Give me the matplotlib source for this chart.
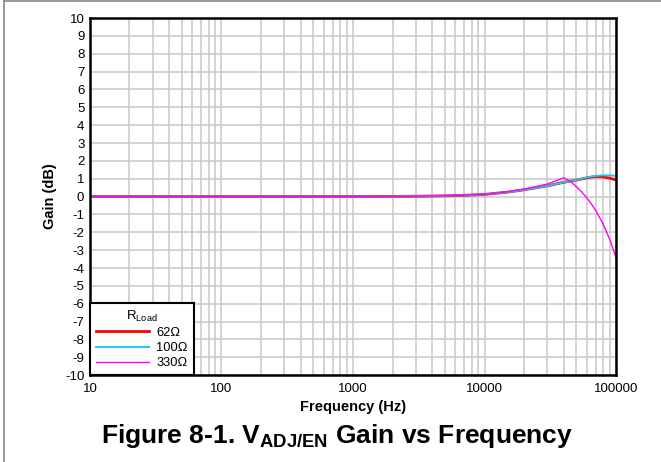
import numpy as np
import matplotlib.pyplot as plt
from matplotlib.ticker import FixedLocator, LogLocator, NullFormatter
from matplotlib.lines import Line2D

plt.rcParams['font.family'] = ['Liberation Sans', 'DejaVu Sans']
plt.rcParams['mathtext.fontset'] = 'custom'
plt.rcParams['mathtext.rm'] = 'Liberation Sans'
plt.rcParams['mathtext.bf'] = 'Liberation Sans:bold'
plt.rcParams['axes.unicode_minus'] = False

freq = [10, 100, 1000, 2000, 3000, 5000, 7000, 10000, 15000, 20000, 30000,
        40000, 45000, 50000, 55000, 60000, 65000, 70000, 80000, 90000, 100000]
gain_62 = [0, 0, 0, 0.01, 0.02, 0.04, 0.07, 0.12, 0.25, 0.38, 0.6,
           0.8, 0.87, 0.93, 0.99, 1.05, 1.09, 1.12, 1.1, 1.03, 0.93]
gain_100 = [0, 0, 0, 0.01, 0.02, 0.04, 0.07, 0.12, 0.25, 0.38, 0.6,
            0.8, 0.87, 0.94, 1.01, 1.07, 1.12, 1.16, 1.19, 1.19, 1.15]
gain_330 = [0, 0, 0, 0.01, 0.02, 0.05, 0.08, 0.13, 0.27, 0.42, 0.7,
            1.05, 0.85, 0.55, 0.25, -0.08, -0.42, -0.78, -1.55, -2.45, -3.4]
labels = ['62\u03a9', '100\u03a9', '330\u03a9']

fig = plt.figure(figsize=(6.61, 4.62), dpi=100)
ax = fig.add_axes([0.136, 0.188, 0.796, 0.773])

ax.plot(freq, gain_62, color='#ff0000', lw=2.0, label=labels[0])
ax.plot(freq, gain_100, color='#1ec8f0', lw=1.4, label=labels[1])
ax.plot(freq, gain_330, color='#ff00ff', lw=1.0, label=labels[2])

ax.set_xscale('log')
ax.set_xlim(10, 100000)
ax.set_ylim(-10, 10)
ax.xaxis.set_major_locator(FixedLocator([10, 100, 1000, 10000, 100000]))
ax.set_xticklabels(['10', '100', '1000', '10000', '100000'])
ax.xaxis.set_minor_locator(LogLocator(base=10, subs=np.arange(2, 10), numticks=20))
ax.xaxis.set_minor_formatter(NullFormatter())
ax.set_yticks(np.arange(-10, 11, 1))
ax.tick_params(which='both', length=0, labelsize=9.5, pad=4)
ax.tick_params(axis='x', pad=6)
ax.grid(True, which='both', color='#c8c8c8', lw=1.1)
ax.set_axisbelow(True)
for s in ax.spines.values():
    s.set_linewidth(1.8)

ax.set_xlabel('Frequency (Hz)', fontsize=10.5, fontweight='bold', labelpad=3)
ax.set_ylabel('Gain (dB)', fontsize=10.5, fontweight='bold', labelpad=6)

leg = ax.legend(title='R$_{\\mathrm{Load}}$', loc='lower left', bbox_to_anchor=(0, 0),
                borderaxespad=0, fancybox=False, edgecolor='black', framealpha=1,
                fontsize=9.3, title_fontsize=9.5, handlelength=4.1, handletextpad=0.6,
                labelspacing=0.25, borderpad=0.45)
leg.get_frame().set_linewidth(1.5)

fig.text(0.51, 0.057, 'Figure 8-1. V$_{\\mathbf{ADJ/EN}}$ Gain vs Frequency',
         ha='center', va='center', fontsize=19, fontweight='bold')

# outer frame (left and top edge)
fig.add_artist(Line2D([0.0065, 0.0065], [0, 0.997], color='#888888', lw=1.2, transform=fig.transFigure))
fig.add_artist(Line2D([0.0065, 1], [0.997, 0.997], color='#888888', lw=1.2, transform=fig.transFigure))

fig.savefig('out.png', dpi=100)
